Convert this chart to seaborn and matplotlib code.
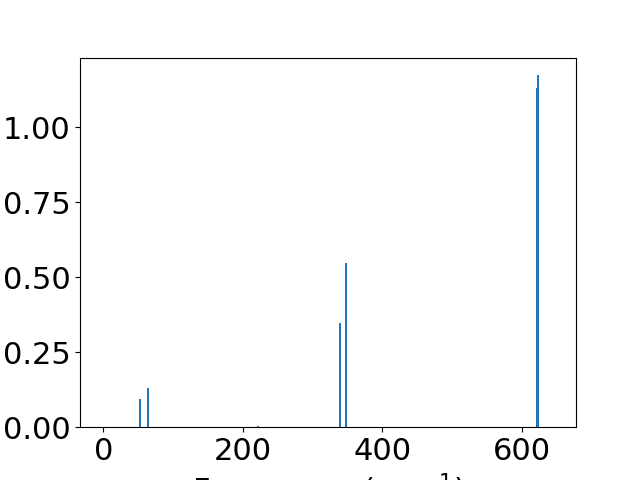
import matplotlib
matplotlib.use("Agg")
import matplotlib.pyplot as plt
import seaborn as sns
import pandas as pd

frequencies = [52.2, 64.1, 221.8, 339.8, 348.4, 621.3, 623.3]
intensities = [0.093, 0.130, 0.003, 0.347, 0.549, 1.132, 1.173]

plt.rcParams['font.size'] = 22
df = pd.DataFrame({"freq": frequencies, "inten": intensities})

fig, ax = plt.subplots(figsize=(6.4, 4.8), dpi=100)
sns.barplot(data=df, x="freq", y="inten", native_scale=True, color="#1f77b4",
            saturation=1, width=1.4, errorbar=None, ax=ax)
ax.set_xlim(-33.4, 677.7)
ax.set_ylim(0, 1.232)
ax.set_xticks([0, 200, 400, 600])
ax.set_yticks([0, 0.25, 0.5, 0.75, 1.0])
ax.set_yticklabels(["0.00", "0.25", "0.50", "0.75", "1.00"])
ax.set_xlabel("Frequency (cm$^{-1}$)")
ax.set_ylabel("")
fig.savefig("out.png", dpi=100)
